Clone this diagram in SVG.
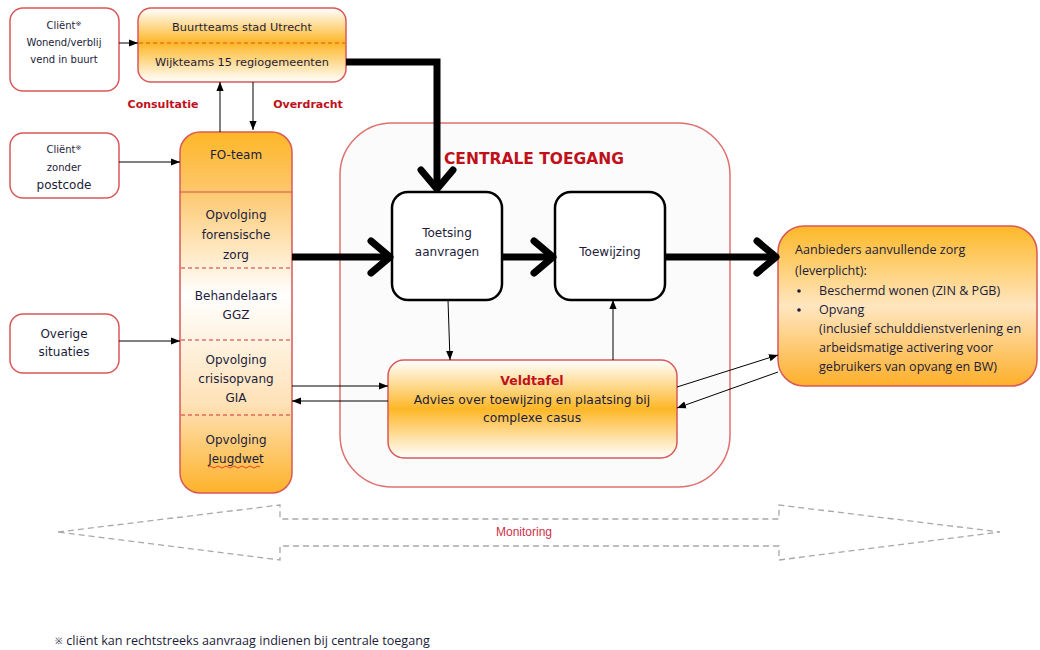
<svg xmlns="http://www.w3.org/2000/svg" width="1040" height="650" viewBox="0 0 1040 650">
<defs>
<linearGradient id="gBuurt" x1="0" y1="0" x2="0" y2="1">
<stop offset="0" stop-color="#ffffff"/><stop offset="0.47" stop-color="#fdb727"/><stop offset="1" stop-color="#ffffff"/>
</linearGradient>
<linearGradient id="gFO" x1="0" y1="0" x2="0" y2="1">
<stop offset="0" stop-color="#fdb727"/><stop offset="0.15" stop-color="#fdc566"/><stop offset="0.45" stop-color="#ffffff"/><stop offset="0.75" stop-color="#fee2b8"/><stop offset="1" stop-color="#fdb22a"/>
</linearGradient>
<linearGradient id="gVeld" x1="0" y1="0" x2="0" y2="1">
<stop offset="0" stop-color="#ffffff"/><stop offset="0.5" stop-color="#fdb727"/><stop offset="1" stop-color="#ffffff"/>
</linearGradient>
<linearGradient id="gAanb" x1="0" y1="0" x2="0" y2="1">
<stop offset="0" stop-color="#fdb827"/><stop offset="0.5" stop-color="#ffe6c0"/><stop offset="1" stop-color="#fdaf2a"/>
</linearGradient>
<marker id="chev" viewBox="-26 -22 32 44" markerWidth="32" markerHeight="44" refX="0" refY="0" markerUnits="userSpaceOnUse" orient="auto">
<path d="M-19,-16 L0,0 L-19,16" fill="none" stroke="#000" stroke-width="7" stroke-linecap="round" stroke-linejoin="round"/>
</marker>
<marker id="tri" viewBox="0 0 10 10" markerWidth="9" markerHeight="9" refX="10" refY="5" markerUnits="userSpaceOnUse" orient="auto">
<path d="M0,1 L10,5 L0,9 Z" fill="#000"/>
</marker>
<style>
.client{fill:#ffffff;stroke:#d9585a;stroke-width:1.5}
.t{font-family:"DejaVu Sans",sans-serif;fill:#1c1c3a;text-anchor:middle}
.s10{font-size:10px}
.s11{font-size:11px}
.s12{font-size:12px}
.red{font-family:"DejaVu Sans",sans-serif;font-weight:bold;fill:#c0101a}
.o{font-family:"Open Sans",sans-serif;font-size:12.6px;fill:#1c1c3a}
.thick{fill:none;stroke:#000;stroke-width:7;marker-end:url(#chev)}
.thin{fill:none;stroke:#000;stroke-width:1;marker-end:url(#tri)}
.proc{fill:#ffffff;stroke:#000;stroke-width:2.5}
</style>
</defs>
<rect width="1040" height="650" fill="#ffffff"/>

<g id="centrale-toegang">
<rect x="340" y="123" width="390" height="364" rx="52" fill="#fbfbfb" stroke="#e07070" stroke-width="1.5"/>
<text class="red" x="534" y="164" font-size="15.5" text-anchor="middle">CENTRALE TOEGANG</text>
</g>

<g id="client-buurt">
<rect class="client" x="10" y="8" width="109" height="83" rx="13"/>
<text class="t s10" x="64" y="29">Cliënt<tspan font-size="7" dy="-3">※</tspan></text>
<text class="t s10" x="64" y="46">Wonend/verblij</text>
<text class="t s10" x="64" y="63">vend in buurt</text>
</g>

<g id="buurtteams">
<rect x="138" y="8" width="208" height="74" rx="13" fill="url(#gBuurt)" stroke="#d9585a" stroke-width="1.5"/>
<line x1="139" y1="43" x2="345" y2="43" stroke="#e0502a" stroke-width="1.2" stroke-dasharray="4,3"/>
<text class="t" font-size="11.3" x="242" y="31">Buurtteams stad Utrecht</text>
<text class="t" font-size="11.3" x="242" y="66">Wijkteams 15 regiogemeenten</text>
</g>

<g id="client-zonder-postcode">
<rect class="client" x="10" y="133" width="109" height="65" rx="13"/>
<text class="t s10" x="64" y="153">Cliënt<tspan font-size="7" dy="-3">※</tspan></text>
<text class="t s10" x="64" y="171">zonder</text>
<text class="t s12" x="64" y="189">postcode</text>
</g>

<g id="overige-situaties">
<rect class="client" x="10" y="314" width="109" height="59" rx="13"/>
<text class="t s12" x="64" y="338">Overige</text>
<text class="t s12" x="64" y="356">situaties</text>
</g>

<g id="fo-team">
<rect x="180" y="132" width="112" height="361" rx="20" fill="url(#gFO)" stroke="#d9585a" stroke-width="1.5"/>
<line x1="180" y1="192" x2="292" y2="192" stroke="#d0504a" stroke-width="1.2"/>
<line x1="181" y1="268" x2="291" y2="268" stroke="#d0303a" stroke-width="1" stroke-dasharray="4,3"/>
<line x1="181" y1="340" x2="291" y2="340" stroke="#d0303a" stroke-width="1" stroke-dasharray="4,3"/>
<line x1="181" y1="415" x2="291" y2="415" stroke="#d0303a" stroke-width="1" stroke-dasharray="4,3"/>
<text class="t s12" x="236" y="159">FO-team</text>
<text class="t s12" x="236" y="219">Opvolging</text>
<text class="t s12" x="236" y="239">forensische</text>
<text class="t s12" x="236" y="259">zorg</text>
<text class="t s12" x="236" y="300">Behandelaars</text>
<text class="t s12" x="236" y="319">GGZ</text>
<text class="t s12" x="236" y="364">Opvolging</text>
<text class="t s12" x="236" y="383">crisisopvang</text>
<text class="t s12" x="236" y="402">GIA</text>
<text class="t s12" x="236" y="444">Opvolging</text>
<text class="t s12" x="236" y="463">Jeugdwet</text>
<path d="M208,467 q2,-2 4,0 t4,0 t4,0 t4,0 t4,0 t4,0 t4,0 t4,0 t4,0 t4,0 t4,0 t4,0 t4,0" fill="none" stroke="#e02020" stroke-width="0.8"/>
</g>

<g id="toetsing">
<rect class="proc" x="392" y="192" width="110" height="108" rx="16"/>
<text class="t s12" x="447" y="237">Toetsing</text>
<text class="t s12" x="447" y="256">aanvragen</text>
</g>

<g id="toewijzing">
<rect class="proc" x="555" y="192" width="110" height="108" rx="16"/>
<text class="t s12" x="610" y="256">Toewijzing</text>
</g>

<g id="veldtafel">
<rect x="388" y="360" width="289" height="98" rx="16" fill="url(#gVeld)" stroke="#d9585a" stroke-width="1.5"/>
<text class="red" x="532" y="385" font-size="12.5" text-anchor="middle">Veldtafel</text>
<text class="t" font-size="12.3" x="532" y="404">Advies over toewijzing en plaatsing bij</text>
<text class="t" font-size="12.3" x="532" y="422">complexe casus</text>
</g>

<g id="aanbieders">
<rect x="778" y="226" width="259" height="160" rx="26" fill="url(#gAanb)" stroke="#d9585a" stroke-width="1.5"/>
<text class="o" x="795" y="254">Aanbieders aanvullende zorg</text>
<text class="o" x="795" y="275">(leverplicht):</text>
<circle cx="799" cy="291" r="1.8" fill="#1c1c3a"/>
<text class="o" x="819" y="295">Beschermd wonen (ZIN &amp; PGB)</text>
<circle cx="799" cy="310" r="1.8" fill="#1c1c3a"/>
<text class="o" x="819" y="314">Opvang</text>
<text class="o" x="819" y="333">(inclusief schulddienstverlening en</text>
<text class="o" x="819" y="352">arbeidsmatige activering voor</text>
<text class="o" x="819" y="371">gebruikers van opvang en BW)</text>
</g>

<g id="labels">
<text class="red" x="163" y="108" font-size="11" text-anchor="middle">Consultatie</text>
<text class="red" x="308" y="108" font-size="11" text-anchor="middle">Overdracht</text>
</g>

<g id="connectors">
<line class="thin" x1="119" y1="43" x2="138" y2="43"/>
<line class="thin" x1="220" y1="132" x2="220" y2="82"/>
<line class="thin" x1="253" y1="82" x2="253" y2="130"/>
<line class="thin" x1="119" y1="162" x2="180" y2="162"/>
<line class="thin" x1="119" y1="341" x2="180" y2="341"/>
<path class="thick" d="M346,62 H437 V189"/>
<line class="thick" x1="292" y1="257" x2="390" y2="257"/>
<line class="thick" x1="502" y1="257" x2="553" y2="257"/>
<line class="thick" x1="665" y1="257" x2="776" y2="257"/>
<line class="thin" x1="448" y1="300" x2="450" y2="360"/>
<line class="thin" x1="613" y1="360" x2="613" y2="300"/>
<line class="thin" x1="292" y1="386" x2="388" y2="386"/>
<line class="thin" x1="388" y1="401" x2="292" y2="401"/>
<line class="thin" x1="677" y1="387" x2="778" y2="355"/>
<line class="thin" x1="778" y1="372" x2="677" y2="408"/>
</g>

<g id="monitoring">
<path d="M58,532 L280,505 L280,519 L779,519 L779,505 L1000,532 L779,560 L779,546 L280,546 L280,560 Z" fill="none" stroke="#a8a8a8" stroke-width="1.3" stroke-dasharray="6,4"/>
<text x="524" y="536" font-family="'Liberation Sans',sans-serif" font-size="12" fill="#d0304a" text-anchor="middle">Monitoring</text>
</g>

<g id="footnote">
<text class="o" x="55" y="645"><tspan font-size="9" dy="-1">※</tspan><tspan dy="1"> cliënt kan rechtstreeks aanvraag indienen bij centrale toegang</tspan></text>
</g>
</svg>
